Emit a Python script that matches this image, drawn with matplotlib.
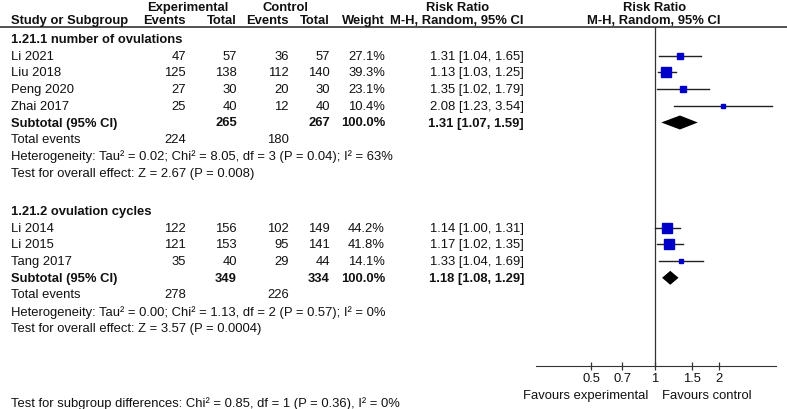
import numpy as np
import matplotlib
matplotlib.use("Agg")
import matplotlib.pyplot as plt

plt.rcParams['font.family'] = ['Liberation Sans', 'DejaVu Sans']

# subgroup 1.21.1
studies1 = ["Li 2021", "Liu 2018", "Peng 2020", "Zhai 2017"]
exp_ev1 = [47, 125, 27, 25]
exp_tot1 = [57, 138, 30, 40]
ctl_ev1 = [36, 112, 20, 12]
ctl_tot1 = [57, 140, 30, 40]
weight1 = [27.1, 39.3, 23.1, 10.4]
rr1 = [1.31, 1.13, 1.35, 2.08]
lo1 = [1.04, 1.03, 1.02, 1.23]
hi1 = [1.65, 1.25, 1.79, 3.54]
sub1 = [1.31, 1.07, 1.59]
het1 = "Heterogeneity: Tau² = 0.02; Chi² = 8.05, df = 3 (P = 0.04); I² = 63%"
eff1 = "Test for overall effect: Z = 2.67 (P = 0.008)"

# subgroup 1.21.2
studies2 = ["Li 2014", "Li 2015", "Tang 2017"]
exp_ev2 = [122, 121, 35]
exp_tot2 = [156, 153, 40]
ctl_ev2 = [102, 95, 29]
ctl_tot2 = [149, 141, 44]
weight2 = [44.2, 41.8, 14.1]
rr2 = [1.14, 1.17, 1.33]
lo2 = [1.00, 1.02, 1.04]
hi2 = [1.31, 1.35, 1.69]
sub2 = [1.18, 1.08, 1.29]
het2 = "Heterogeneity: Tau² = 0.00; Chi² = 1.13, df = 2 (P = 0.57); I² = 0%"
eff2 = "Test for overall effect: Z = 3.57 (P = 0.0004)"

subgroup_test = "Test for subgroup differences: Chi² = 0.85, df = 1 (P = 0.36), I² = 0%"
ticks = [0.5, 0.7, 1, 1.5, 2]
tick_labels = ["0.5", "0.7", "1", "1.5", "2"]

W, H = 787, 410
fig = plt.figure(figsize=(W / 100, H / 100), dpi=100)
ax = fig.add_axes([0, 0, 1, 1])
ax.set_xlim(0, W)
ax.set_ylim(H, 0)
ax.axis('off')

fs = 9.35
txt = dict(fontsize=fs, va='center', color='#111111')

# forest panel: x from 536 to 776 px, y from 28 to 367 px
fx0, fx1, fy0, fy1 = 536, 776, 28, 367
fax = fig.add_axes([fx0 / W, 1 - fy1 / H, (fx1 - fx0) / W, (fy1 - fy0) / H])
fax.set_xscale('log')
fax.set_xlim(np.exp(-119 / 92.3), np.exp(121 / 92.3))
fax.set_ylim(fy1, fy0)
fax.patch.set_alpha(0)
for s in ['top', 'left', 'right']:
    fax.spines[s].set_visible(False)
fax.spines['bottom'].set_color('#333333')
fax.set_yticks([])
fax.set_xticks(ticks)
fax.set_xticklabels(tick_labels)
fax.minorticks_off()
fax.tick_params(axis='x', direction='inout', length=6, width=0.9,
                labelsize=fs, pad=1.0, colors='#333333', labelcolor='#111111')
fax.axvline(1, color='#333333', lw=0.9)

# header
ax.plot([0, W], [28, 28], color='#222222', lw=1.1)
hb = dict(txt, fontweight='bold')
ax.text(188, 8, "Experimental", ha='center', **hb)
ax.text(285, 8, "Control", ha='center', **hb)
ax.text(458, 8, "Risk Ratio", ha='center', **hb)
ax.text(655, 8, "Risk Ratio", ha='center', **hb)
ax.text(11, 21, "Study or Subgroup", ha='left', **hb)
ax.text(186, 21, "Events", ha='right', **hb)
ax.text(237, 21, "Total", ha='right', **hb)
ax.text(289, 21, "Events", ha='right', **hb)
ax.text(330, 21, "Total", ha='right', **hb)
ax.text(385, 21, "Weight", ha='right', **hb)
ax.text(524, 21, "M-H, Random, 95% CI", ha='right', **hb)
ax.text(654, 21, "M-H, Random, 95% CI", ha='center', **hb)

cols = [186, 237, 289, 330, 385, 524]
step = 16.7


def draw_group(y0, title, studies, eev, etot, cev, ctot, wt, rr, lo, hi, sub, het, eff):
    ax.text(11, y0, title, ha='left', **hb)
    for i, name in enumerate(studies):
        y = y0 + step * (i + 1)
        vals = [str(eev[i]), str(etot[i]), str(cev[i]), str(ctot[i]),
                "%.1f%%" % wt[i], "%.2f [%.2f, %.2f]" % (rr[i], lo[i], hi[i])]
        ax.text(11, y, name, ha='left', **txt)
        for x, v in zip(cols, vals):
            ax.text(x, y, v, ha='right', **txt)
        fax.plot([lo[i], hi[i]], [y, y], color='#222222', lw=1.0, zorder=2)
        fax.plot(rr[i], y, marker='s', ms=0.585 * wt[i] ** 0.75 * 0.72,
                 color='#0000c8', mec='#0000c8', zorder=3)
    ys = y0 + step * (len(studies) + 1)
    ax.text(11, ys, "Subtotal (95% CI)", ha='left', **hb)
    ax.text(cols[1], ys, str(sum(etot)), ha='right', **hb)
    ax.text(cols[3], ys, str(sum(ctot)), ha='right', **hb)
    ax.text(cols[4], ys, "100.0%", ha='right', **hb)
    ax.text(cols[5], ys, "%.2f [%.2f, %.2f]" % tuple(sub), ha='right', **hb)
    fax.fill([sub[1], sub[0], sub[2], sub[0]], [ys, ys - 7, ys, ys + 7],
             color='black', lw=0, zorder=3)
    yt = ys + step
    ax.text(11, yt, "Total events", ha='left', **txt)
    ax.text(cols[0], yt, str(sum(eev)), ha='right', **txt)
    ax.text(cols[2], yt, str(sum(cev)), ha='right', **txt)
    ax.text(11, yt + step, het, ha='left', **txt)
    ax.text(11, yt + 2 * step, eff, ha='left', **txt)


draw_group(40, "1.21.1 number of ovulations", studies1, exp_ev1, exp_tot1,
           ctl_ev1, ctl_tot1, weight1, rr1, lo1, hi1, sub1, het1, eff1)
draw_group(212, "1.21.2 ovulation cycles", studies2, exp_ev2, exp_tot2,
           ctl_ev2, ctl_tot2, weight2, rr2, lo2, hi2, sub2, het2, eff2)

ax.text(648, 396, "Favours experimental", ha='right', **txt)
ax.text(662, 396, "Favours control", ha='left', **txt)
ax.text(11, 404, subgroup_test, ha='left', **txt)

fig.savefig("out.png", dpi=100)
